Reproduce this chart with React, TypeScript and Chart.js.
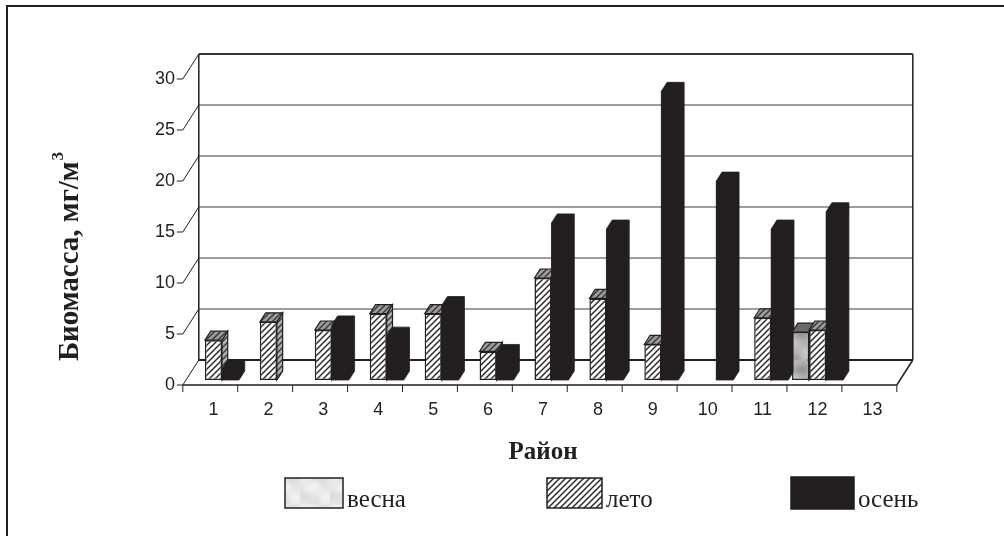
import React, { useEffect, useRef } from "react";
import { Chart, registerables } from "chart.js";

Chart.register(...registerables);

// Zooplankton biomass by district and season
const districts = ["1", "2", "3", "4", "5", "6", "7", "8", "9", "10", "11", "12", "13"];
const seriesNames = ["весна", "лето", "осень"];
const springBiomass = [null, null, null, null, null, null, null, null, null, null, null, 4.7, null];
const summerBiomass = [3.9, 5.7, 4.9, 6.5, 6.5, 2.8, 10.0, 8.0, 3.5, null, 6.1, 4.9, null];
const autumnBiomass = [1.1, null, 5.4, 4.3, 7.3, 2.6, 15.4, 14.8, 28.3, 19.5, 14.8, 16.5, null];
const valueTicks = [0, 5, 10, 15, 20, 25, 30];

const INK = "#231f20";
const SANS = '"Liberation Sans", Arial, sans-serif';
const SERIF = '"Liberation Serif", "Times New Roman", serif';

// oblique projection: full floor depth and where the bars sit inside it
const DEPTH_X = 16;
const DEPTH_Y = 25;
const BAR_FRONT = 0.2;
const BAR_DEPTH = 0.36;

function hatch(ctx: CanvasRenderingContext2D, bg: string, fg: string, size = 6, lw = 1.5) {
  const c = document.createElement("canvas");
  c.width = size;
  c.height = size;
  const g = c.getContext("2d")!;
  g.fillStyle = bg;
  g.fillRect(0, 0, size, size);
  g.strokeStyle = fg;
  g.lineWidth = lw;
  g.beginPath();
  g.moveTo(0, size);
  g.lineTo(size, 0);
  g.moveTo(-size / 2, size / 2);
  g.lineTo(size / 2, -size / 2);
  g.moveTo(size / 2, size * 1.5);
  g.lineTo(size * 1.5, size / 2);
  g.stroke();
  return ctx.createPattern(c, "repeat")!;
}

// soft grey texture used for the spring series
function mottled(ctx: CanvasRenderingContext2D, base: string, light: string, dark: string) {
  const c = document.createElement("canvas");
  c.width = 30;
  c.height = 36;
  const g = c.getContext("2d")!;
  g.fillStyle = base;
  g.fillRect(0, 0, 30, 36);
  const blobs: [number, number, number, number, string][] = [
    [6, 6, 7, 4, light],
    [22, 10, 8, 5, dark],
    [12, 20, 9, 4, light],
    [4, 28, 6, 4, dark],
    [24, 30, 7, 5, light],
    [16, 34, 6, 3, dark],
  ];
  g.filter = "blur(3px)";
  for (const [x, y, rx, ry, col] of blobs) {
    g.fillStyle = col;
    g.beginPath();
    g.ellipse(x, y, rx, ry, -0.4, 0, Math.PI * 2);
    g.fill();
  }
  return ctx.createPattern(c, "repeat")!;
}

export default function App() {
  const ref = useRef<HTMLCanvasElement>(null);

  useEffect(() => {
    const canvas = ref.current!;
    const ctx = canvas.getContext("2d")!;

    const springFront = mottled(ctx, "#b6b6b6", "#cdcdcd", "#8e8e8e");
    const springSwatch = mottled(ctx, "#e6e6e6", "#f7f7f7", "#d6d6d6");
    const summerFront = hatch(ctx, "#ffffff", "#2b2b2b");
    const summerTop = hatch(ctx, "#9c9c9c", "#3a3a3a");
    const summerSide = hatch(ctx, "#b0b0b0", "#3c3c3c");

    const faces = [
      { top: "#6a6a6a" as any, side: "#7a7a7a" as any, solid: false },
      { top: summerTop as any, side: summerSide as any, solid: false },
      { top: INK as any, side: INK as any, solid: true },
    ];

    const line = (x1: number, y1: number, x2: number, y2: number) => {
      ctx.beginPath();
      ctx.moveTo(x1, y1);
      ctx.lineTo(x2, y2);
      ctx.stroke();
    };

    const walls3d = {
      id: "walls3d",
      beforeDatasetsDraw(chart: any) {
        const { chartArea: a, scales } = chart;
        const y = scales.y;
        const bx = DEPTH_X * (1 - BAR_FRONT);
        const by = DEPTH_Y * (1 - BAR_FRONT);
        const fx = DEPTH_X * BAR_FRONT;
        const fy = DEPTH_Y * BAR_FRONT;
        const backL = a.left + bx;
        const backR = a.right + bx;
        const frontL = a.left - fx;
        const frontR = a.right - fx;
        ctx.save();
        ctx.lineCap = "butt";

        for (const v of valueTicks) {
          const yb = y.getPixelForValue(v) - by;
          const yf = y.getPixelForValue(v) + fy;
          ctx.strokeStyle = v === 0 ? INK : v === 30 ? "#333" : "#7d7d7d";
          ctx.lineWidth = v === 0 || v === 30 ? 2 : 1.5;
          line(backL, yb, backR, yb);
          ctx.strokeStyle = INK;
          ctx.lineWidth = 1;
          line(frontL, yf, backL, yb);
          line(frontL - 6, yf, frontL, yf);
        }

        const wallTop = y.getPixelForValue(30) - by;
        const wallBottom = y.getPixelForValue(0) - by;
        const floorFront = y.getPixelForValue(0) + fy;
        ctx.strokeStyle = INK;
        ctx.lineWidth = 1.5;
        line(backL, wallTop, backL, wallBottom);
        line(backR, wallTop, backR, wallBottom);
        line(frontL, floorFront, frontR, floorFront);
        line(frontR, floorFront, backR, wallBottom);

        const n = chart.data.labels.length;
        const step = (a.right - a.left) / n;
        ctx.lineWidth = 1;
        for (let k = 0; k <= n; k++) {
          const xx = frontL + k * step;
          line(xx, floorFront, xx, floorFront + 7);
        }

        // side and top faces of the columns, left to right
        const dx = DEPTH_X * BAR_DEPTH;
        const dy = DEPTH_Y * BAR_DEPTH;
        for (let c = 0; c < n; c++) {
          chart.data.datasets.forEach((ds: any, i: number) => {
            const v = ds.data[c];
            if (v == null) return;
            const el = chart.getDatasetMeta(i).data[c];
            const { x: cx, y: top, base, width } = el.getProps(["x", "y", "base", "width"], true);
            const x0 = cx - width / 2;
            const x1 = cx + width / 2;
            const f = faces[i];
            ctx.strokeStyle = INK;
            ctx.lineJoin = "miter";

            if (f.solid) {
              // one silhouette for a solid box, so no seams show between faces
              ctx.beginPath();
              ctx.moveTo(x0, base);
              ctx.lineTo(x0, top);
              ctx.lineTo(x0 + dx, top - dy);
              ctx.lineTo(x1 + dx, top - dy);
              ctx.lineTo(x1 + dx, base - dy);
              ctx.lineTo(x1, base);
              ctx.closePath();
              ctx.fillStyle = INK;
              ctx.fill();
              ctx.lineWidth = 0.8;
              ctx.stroke();
              return;
            }

            ctx.lineWidth = 1.2;
            ctx.beginPath();
            ctx.moveTo(x1, top);
            ctx.lineTo(x1 + dx, top - dy);
            ctx.lineTo(x1 + dx, base - dy);
            ctx.lineTo(x1, base);
            ctx.closePath();
            ctx.fillStyle = f.side;
            ctx.fill();
            ctx.stroke();

            ctx.beginPath();
            ctx.moveTo(x0, top);
            ctx.lineTo(x1, top);
            ctx.lineTo(x1 + dx, top - dy);
            ctx.lineTo(x0 + dx, top - dy);
            ctx.closePath();
            ctx.fillStyle = f.top;
            ctx.fill();
            ctx.stroke();
          });
        }
        ctx.restore();
      },
    };

    const annotations = {
      id: "annotations",
      afterDraw(chart: any) {
        ctx.save();
        // frame
        ctx.strokeStyle = INK;
        ctx.lineWidth = 2;
        ctx.beginPath();
        ctx.moveTo(7, 536);
        ctx.lineTo(7, 6);
        ctx.lineTo(1004, 6);
        ctx.stroke();

        ctx.fillStyle = INK;
        // value axis title
        ctx.save();
        ctx.translate(68, 257);
        ctx.rotate(-Math.PI / 2);
        ctx.font = `bold 29px ${SERIF}`;
        const main = "Биомасса, мг/м";
        const w1 = ctx.measureText(main).width;
        ctx.font = `bold 17px ${SERIF}`;
        const w2 = ctx.measureText("3").width;
        const start = -(w1 + w2) / 2;
        ctx.font = `bold 29px ${SERIF}`;
        ctx.textAlign = "left";
        ctx.textBaseline = "alphabetic";
        ctx.fillText(main, start, 10);
        ctx.font = `bold 17px ${SERIF}`;
        ctx.fillText("3", start + w1 + 1, -5);
        ctx.restore();

        // category axis title
        ctx.font = `bold 25px ${SERIF}`;
        ctx.textAlign = "center";
        ctx.textBaseline = "alphabetic";
        ctx.fillText("Район", 543, 459);

        // legend
        const swatches = [springSwatch, summerFront, INK];
        const boxes = [
          [285, 478, 58, 30],
          [547, 478, 55, 30],
          [791, 477, 63, 32],
        ];
        ctx.textAlign = "left";
        ctx.font = `25px ${SERIF}`;
        chart.data.datasets.forEach((ds: any, i: number) => {
          const [bx, by, bw, bh] = boxes[i];
          ctx.fillStyle = swatches[i] as any;
          ctx.fillRect(bx, by, bw, bh);
          ctx.strokeStyle = INK;
          ctx.lineWidth = 1.5;
          ctx.strokeRect(bx, by, bw, bh);
          ctx.fillStyle = INK;
          ctx.fillText(ds.label, bx + bw + 4, 507);
        });
        ctx.restore();
      },
    };

    const chart = new Chart(canvas, {
      type: "bar",
      data: {
        labels: districts,
        datasets: [
          { label: seriesNames[0], data: springBiomass, backgroundColor: springFront, borderColor: INK, borderWidth: 1.5 },
          { label: seriesNames[1], data: summerBiomass, backgroundColor: summerFront, borderColor: INK, borderWidth: 1.5 },
          { label: seriesNames[2], data: autumnBiomass, backgroundColor: INK, borderColor: INK, borderWidth: 0 },
        ] as any,
      },
      options: {
        responsive: false,
        animation: false,
        events: [],
        layout: { padding: { left: 140, right: 104, top: 74, bottom: 116 } },
        datasets: { bar: { categoryPercentage: 0.93, barPercentage: 1, borderSkipped: false } as any },
        plugins: { legend: { display: false }, tooltip: { enabled: false }, title: { display: false } },
        scales: {
          x: {
            grid: { display: false, drawTicks: false },
            border: { display: false },
            ticks: { padding: 19, color: INK, font: { family: SANS, size: 18 }, autoSkip: false, maxRotation: 0 },
            afterFit: (s: any) => {
              s.height = 40;
            },
          },
          y: {
            min: 0,
            max: 30,
            grid: { display: false, drawTicks: false },
            border: { display: false },
            ticks: { stepSize: 5, padding: 11, labelOffset: 5, color: INK, font: { family: SANS, size: 18 } },
            afterFit: (s: any) => {
              s.width = 46;
            },
          },
        },
      } as any,
      plugins: [walls3d, annotations],
    });

    return () => chart.destroy();
  }, []);

  return (
    <div style={{ position: "fixed", left: 0, top: 0, width: 1004, height: 536, background: "#fff" }}>
      <canvas ref={ref} width={1004} height={536} style={{ display: "block", width: 1004, height: 536 }} />
    </div>
  );
}
